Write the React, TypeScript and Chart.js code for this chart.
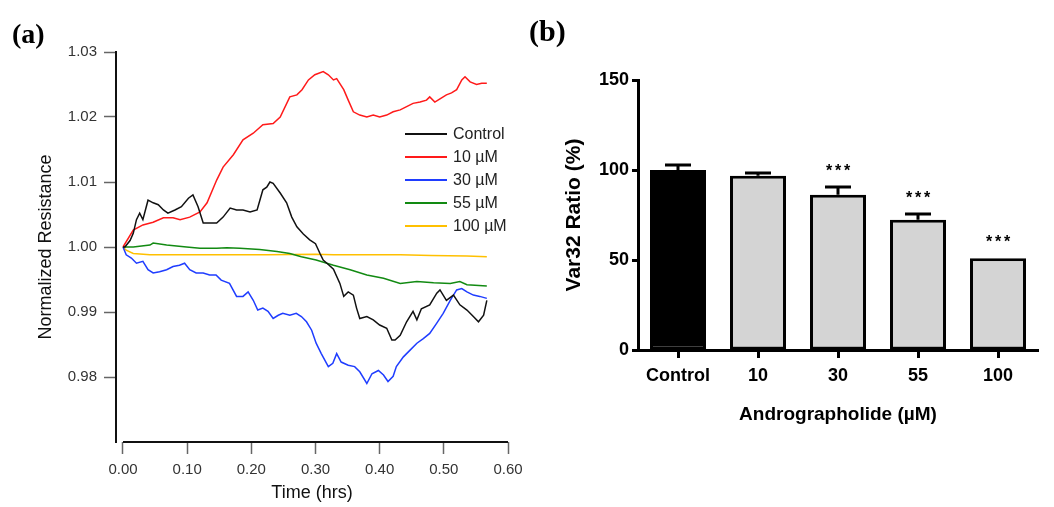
import React, { useEffect, useRef } from "react";
import { Chart, registerables } from "chart.js";

Chart.register(...registerables);

// ---------- Panel (a): normalized resistance over time ----------
const controlTime = [0, 0.003, 0.011, 0.016, 0.021, 0.026, 0.031, 0.039, 0.047, 0.055, 0.063, 0.070, 0.081, 0.091, 0.102, 0.109, 0.117, 0.125, 0.136, 0.146, 0.156, 0.167, 0.177, 0.187, 0.198, 0.209, 0.218, 0.224, 0.229, 0.234, 0.245, 0.255, 0.263, 0.271, 0.281, 0.291, 0.300, 0.307, 0.312, 0.320, 0.328, 0.338, 0.344, 0.351, 0.359, 0.364, 0.369, 0.380, 0.390, 0.400, 0.411, 0.419, 0.424, 0.432, 0.442, 0.452, 0.458, 0.465, 0.478, 0.489, 0.494, 0.504, 0.515, 0.525, 0.536, 0.546, 0.554, 0.562, 0.567];
const controlValue = [1.0000, 1.0000, 1.0010, 1.0021, 1.0042, 1.0052, 1.0042, 1.0072, 1.0068, 1.0065, 1.0057, 1.0052, 1.0057, 1.0062, 1.0075, 1.0080, 1.0062, 1.0037, 1.0037, 1.0037, 1.0046, 1.0060, 1.0057, 1.0057, 1.0054, 1.0057, 1.0088, 1.0092, 1.0100, 1.0098, 1.0083, 1.0068, 1.0046, 1.0031, 1.0020, 1.0011, 1.0005, 0.9990, 0.9980, 0.9973, 0.9966, 0.9944, 0.9924, 0.9931, 0.9926, 0.9906, 0.9890, 0.9893, 0.9888, 0.9880, 0.9875, 0.9857, 0.9857, 0.9864, 0.9885, 0.9901, 0.9888, 0.9905, 0.9911, 0.9929, 0.9934, 0.9918, 0.9926, 0.9911, 0.9903, 0.9893, 0.9885, 0.9895, 0.9918];

const uM10Time = [0, 0.016, 0.031, 0.047, 0.063, 0.078, 0.089, 0.104, 0.120, 0.131, 0.146, 0.156, 0.172, 0.187, 0.203, 0.218, 0.234, 0.245, 0.260, 0.271, 0.279, 0.289, 0.299, 0.312, 0.320, 0.328, 0.333, 0.344, 0.351, 0.359, 0.369, 0.380, 0.390, 0.400, 0.411, 0.421, 0.432, 0.442, 0.452, 0.463, 0.473, 0.478, 0.486, 0.494, 0.504, 0.512, 0.520, 0.528, 0.533, 0.541, 0.551, 0.559, 0.567];
const uM10Value = [1.0000, 1.0026, 1.0034, 1.0038, 1.0045, 1.0045, 1.0042, 1.0046, 1.0054, 1.0068, 1.0103, 1.0123, 1.0142, 1.0165, 1.0175, 1.0188, 1.0190, 1.0200, 1.0231, 1.0234, 1.0242, 1.0257, 1.0265, 1.0270, 1.0265, 1.0257, 1.0259, 1.0242, 1.0226, 1.0208, 1.0203, 1.0200, 1.0203, 1.0200, 1.0203, 1.0208, 1.0211, 1.0216, 1.0221, 1.0223, 1.0226, 1.0231, 1.0223, 1.0228, 1.0234, 1.0237, 1.0242, 1.0257, 1.0262, 1.0254, 1.0250, 1.0252, 1.0252];

const uM30Time = [0, 0.005, 0.013, 0.021, 0.031, 0.039, 0.047, 0.057, 0.068, 0.078, 0.088, 0.096, 0.104, 0.114, 0.125, 0.135, 0.145, 0.153, 0.166, 0.177, 0.187, 0.195, 0.203, 0.210, 0.218, 0.226, 0.234, 0.242, 0.249, 0.260, 0.270, 0.278, 0.286, 0.294, 0.301, 0.309, 0.320, 0.327, 0.333, 0.340, 0.351, 0.361, 0.369, 0.380, 0.388, 0.398, 0.406, 0.413, 0.421, 0.426, 0.437, 0.447, 0.458, 0.468, 0.478, 0.489, 0.499, 0.510, 0.520, 0.528, 0.536, 0.546, 0.556, 0.567];
const uM30Value = [1.0000, 0.9988, 0.9983, 0.9975, 0.9978, 0.9965, 0.9960, 0.9962, 0.9965, 0.9970, 0.9972, 0.9975, 0.9965, 0.9960, 0.9960, 0.9957, 0.9957, 0.9949, 0.9944, 0.9924, 0.9924, 0.9931, 0.9918, 0.9903, 0.9906, 0.9901, 0.9890, 0.9895, 0.9898, 0.9895, 0.9898, 0.9893, 0.9885, 0.9872, 0.9852, 0.9836, 0.9816, 0.9821, 0.9836, 0.9823, 0.9818, 0.9816, 0.9808, 0.9790, 0.9805, 0.9810, 0.9803, 0.9793, 0.9801, 0.9816, 0.9831, 0.9841, 0.9852, 0.9859, 0.9867, 0.9883, 0.9898, 0.9918, 0.9934, 0.9936, 0.9931, 0.9926, 0.9924, 0.9921];

const uM55Time = [0, 0.016, 0.042, 0.047, 0.068, 0.099, 0.120, 0.146, 0.162, 0.182, 0.213, 0.240, 0.260, 0.278, 0.301, 0.328, 0.354, 0.380, 0.406, 0.432, 0.458, 0.484, 0.510, 0.525, 0.536, 0.567];
const uM55Value = [1.0000, 1.0000, 1.0003, 1.0006, 1.0003, 1.0000, 0.9998, 0.9998, 0.9999, 0.9998, 0.9996, 0.9993, 0.9990, 0.9985, 0.9980, 0.9972, 0.9965, 0.9957, 0.9952, 0.9944, 0.9947, 0.9945, 0.9944, 0.9947, 0.9942, 0.9940];

const uM100Time = [0, 0.005, 0.016, 0.042, 0.120, 0.224, 0.300, 0.328, 0.432, 0.480, 0.536, 0.567];
const uM100Value = [1.0000, 0.9995, 0.9990, 0.9988, 0.9988, 0.9988, 0.9989, 0.9988, 0.9988, 0.9987, 0.9986, 0.9985];

const seriesLabels = ["Control", "10 µM", "30 µM", "55 µM", "100 µM"];
const seriesColors = ["#111111", "#ff1a1a", "#1f3dff", "#128a12", "#ffc000"];
const timeTicks = [0, 0.1, 0.2, 0.3, 0.4, 0.5, 0.6];
const resistanceTicks = [0.98, 0.99, 1.0, 1.01, 1.02, 1.03];

// ---------- Panel (b): Var32 ratio ----------
const doseCategories = ["Control", "10", "30", "55", "100"];
const var32Ratio = [100, 96.8, 86.2, 72.3, 51];
const var32Sem = [2.8, 1.5, 4.4, 3.2, 0];
const significance = ["", "", "***", "***", "***"];
const ratioTicks = [0, 50, 100, 150];

const SANS = '"Liberation Sans", Arial, sans-serif';

const lineTimes = [controlTime, uM10Time, uM30Time, uM55Time, uM100Time];
const lineValues = [controlValue, uM10Value, uM30Value, uM55Value, uM100Value];

const inlineLegend = {
  id: "inlineLegend",
  afterDraw(chart: any) {
    const ctx = chart.ctx;
    ctx.save();
    chart.data.datasets.forEach((ds: any, i: number) => {
      const y = 134 + i * 23;
      ctx.strokeStyle = ds.borderColor;
      ctx.lineWidth = 2;
      ctx.beginPath();
      ctx.moveTo(405, y);
      ctx.lineTo(447, y);
      ctx.stroke();
      ctx.fillStyle = "#222";
      ctx.font = `16px ${SANS}`;
      ctx.textBaseline = "middle";
      ctx.textAlign = "left";
      ctx.fillText(ds.label, 453, y + 1);
    });
    ctx.restore();
  },
};

const offsetXAxis = {
  id: "offsetXAxis",
  afterDraw(chart: any) {
    const xs = chart.scales.x;
    const ctx = chart.ctx;
    const y = chart.chartArea.bottom;
    ctx.save();
    ctx.strokeStyle = "#111";
    ctx.lineWidth = 2;
    ctx.beginPath();
    ctx.moveTo(xs.getPixelForValue(timeTicks[0]), y);
    ctx.lineTo(xs.getPixelForValue(timeTicks[timeTicks.length - 1]), y);
    ctx.stroke();
    ctx.restore();
  },
};

const errorBars = {
  id: "errorBars",
  afterDatasetsDraw(chart: any) {
    const ctx = chart.ctx;
    const ys = chart.scales.y;
    const meta = chart.getDatasetMeta(0);
    ctx.save();
    meta.data.forEach((bar: any, i: number) => {
      const top = ys.getPixelForValue(var32Ratio[i] + var32Sem[i]);
      if (var32Sem[i] > 0) {
        ctx.strokeStyle = "#000";
        ctx.lineWidth = 3;
        ctx.beginPath();
        ctx.moveTo(bar.x, bar.y);
        ctx.lineTo(bar.x, top);
        ctx.moveTo(bar.x - 13, top);
        ctx.lineTo(bar.x + 13, top);
        ctx.stroke();
      }
      if (significance[i]) {
        ctx.fillStyle = "#000";
        ctx.font = `bold 16px ${SANS}`;
        ctx.textAlign = "center";
        ctx.textBaseline = "alphabetic";
        const marks = significance[i].split("");
        marks.forEach((m, k) => {
          ctx.fillText(m, bar.x + (k - (marks.length - 1) / 2) * 9, top - 11);
        });
      }
    });
    ctx.restore();
  },
};

function LinePanel() {
  const ref = useRef<HTMLCanvasElement>(null);
  useEffect(() => {
    const chart = new Chart(ref.current as HTMLCanvasElement, {
      type: "line",
      data: {
        datasets: seriesLabels.map((label, i) => ({
          label,
          data: lineTimes[i].map((t, j) => ({ x: t, y: lineValues[i][j] })),
          borderColor: seriesColors[i],
          backgroundColor: seriesColors[i],
          borderWidth: 1.5,
          pointRadius: 0,
          tension: 0,
          fill: false,
        })),
      },
      options: {
        responsive: false,
        animation: false,
        layout: { padding: { left: 35, top: 52, right: 32, bottom: 3 } },
        plugins: { legend: { display: false }, tooltip: { enabled: false } },
        scales: {
          x: {
            type: "linear",
            min: -0.0109,
            max: 0.6,
            afterBuildTicks(s: any) {
              s.ticks = timeTicks.map((v) => ({ value: v }));
            },
            afterFit(s: any) {
              s.height = 62;
            },
            grid: { drawOnChartArea: false, tickLength: 12, tickColor: "#666", tickWidth: 1.5 },
            border: { display: false },
            ticks: {
              autoSkip: false,
              maxRotation: 0,
              padding: 7,
              color: "#333",
              font: { family: SANS, size: 15 },
              callback: (v: any) => Number(v).toFixed(2),
            },
            title: { display: true, text: "Time (hrs)", color: "#111", padding: 0, font: { family: SANS, size: 18 } },
          },
          y: {
            min: 0.97,
            max: 1.03,
            afterBuildTicks(s: any) {
              s.ticks = resistanceTicks.map((v) => ({ value: v }));
            },
            afterFit(s: any) {
              s.width = 81;
            },
            grid: { drawOnChartArea: false, tickLength: 12, tickColor: "#666", tickWidth: 1.5 },
            border: { display: true, color: "#111", width: 2 },
            ticks: {
              autoSkip: false,
              padding: 7,
              color: "#333",
              font: { family: SANS, size: 15 },
              callback: (v: any) => Number(v).toFixed(2),
            },
            title: { display: true, text: "Normalized Resistance", color: "#111", padding: 0, font: { family: SANS, size: 18 } },
          },
        },
      } as any,
      plugins: [inlineLegend, offsetXAxis],
    });
    return () => chart.destroy();
  }, []);
  return <canvas ref={ref} width={540} height={507} style={{ position: "absolute", left: 0, top: 0 }} />;
}

function BarPanel() {
  const ref = useRef<HTMLCanvasElement>(null);
  useEffect(() => {
    const chart = new Chart(ref.current as HTMLCanvasElement, {
      type: "bar",
      data: {
        labels: doseCategories,
        datasets: [
          {
            label: "Var32 Ratio (%)",
            data: var32Ratio,
            backgroundColor: doseCategories.map((_, i) => (i === 0 ? "#000000" : "#d4d4d4")),
            borderColor: "#000000",
            borderWidth: 3,
            borderSkipped: false,
            barPercentage: 0.7,
            categoryPercentage: 1,
          },
        ],
      },
      options: {
        responsive: false,
        animation: false,
        layout: { padding: { left: 42, top: 80, right: 16, bottom: 81 } },
        plugins: { legend: { display: false }, tooltip: { enabled: false } },
        scales: {
          x: {
            afterFit(s: any) {
              s.height = 76;
            },
            grid: { drawOnChartArea: false, offset: false, tickLength: 8, tickColor: "#000", tickWidth: 3 },
            border: { display: true, color: "#000", width: 3 },
            ticks: { padding: 7, color: "#000", font: { family: SANS, size: 18, weight: "bold" } },
            title: {
              display: true,
              text: "Andrographolide (µM)",
              color: "#000",
              padding: 0,
              font: { family: SANS, size: 19, weight: "bold" },
            },
          },
          y: {
            min: 0,
            max: 150,
            afterBuildTicks(s: any) {
              s.ticks = ratioTicks.map((v) => ({ value: v }));
            },
            afterFit(s: any) {
              s.width = 76;
            },
            grid: { drawOnChartArea: false, tickLength: 6, tickColor: "#000", tickWidth: 3 },
            border: { display: true, color: "#000", width: 3 },
            ticks: { padding: 3, color: "#000", font: { family: SANS, size: 18, weight: "bold" } },
            title: {
              display: true,
              text: "Var32 Ratio (%)",
              color: "#000",
              padding: 0,
              font: { family: SANS, size: 21, weight: "bold" },
            },
          },
        },
      } as any,
      plugins: [errorBars],
    });
    return () => chart.destroy();
  }, []);
  return <canvas ref={ref} width={534} height={507} style={{ position: "absolute", left: 520, top: 0 }} />;
}

const panelLabel: React.CSSProperties = {
  position: "absolute",
  fontFamily: '"Liberation Serif", "Times New Roman", serif',
  fontWeight: "bold",
  fontSize: 28,
  lineHeight: "28px",
  color: "#000",
};

export default function App() {
  return (
    <div style={{ position: "absolute", left: 0, top: 0, width: 1054, height: 507, background: "#fff", overflow: "hidden" }}>
      <LinePanel />
      <BarPanel />
      <div style={{ ...panelLabel, left: 12, top: 20 }}>(a)</div>
      <div style={{ ...panelLabel, left: 529, top: 17, fontSize: 30 }}>(b)</div>
    </div>
  );
}
